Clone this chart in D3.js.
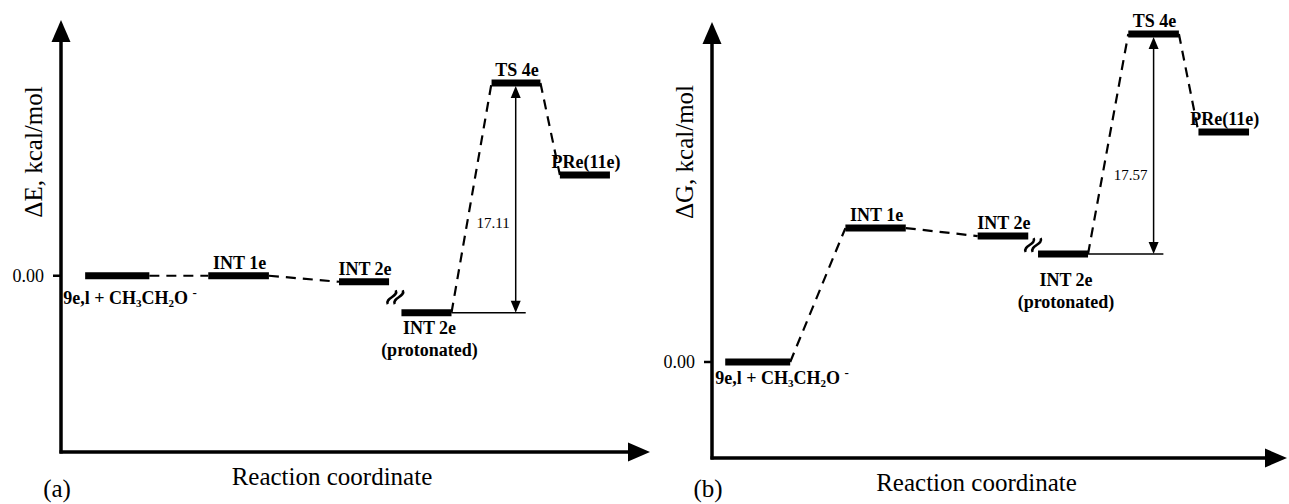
<!DOCTYPE html>
<html lang="en">
<head>
<meta charset="UTF-8">
<title>energy profile</title>
<script src="https://d3js.org/d3.v7.min.js"></script>
<style>
    body{margin:0;background:#fff;}
    svg text{font-family:"Liberation Serif","LiberationSerif","Tinos","Times New Roman",Times,"DejaVu Serif",serif;fill:#000;}
    .lbl{font-weight:bold;font-size:18px;}
    .tick{font-size:18px;}
    .title{font-size:25px;}
    .val{font-size:15px;}
</style>
</head>
<body>
<div id="fig"></div>
<script>
    // states along the reaction coordinate (same order in both panels)
    let states = ["9e,l", "INT 1e", "INT 2e", "INT 2e (protonated)", "TS 4e", "PRe(11e)"]
    // (a) electronic energy, kcal/mol
    let dE = [0.00, 0.00, -0.45, -2.75, 14.36, 7.51]
    let rcStartA = [0.41, 2.50, 4.72, 5.78, 7.31, 8.47]
    let rcEndA = [1.50, 3.53, 5.57, 6.63, 8.14, 9.32]
    // (b) free energy, kcal/mol
    let dG = [0.00, 10.70, 10.06, 8.63, 26.20, 18.37]
    let rcStartB = [0.23, 2.32, 4.62, 5.67, 7.24, 8.46]
    let rcEndB = [1.36, 3.37, 5.50, 6.54, 8.12, 9.34]
    let barriers = ["17.11", "17.57"]
    let tickLabels = ["0.00", "0.00"]

    let W = 1289, H = 504
    let svg = d3.select("#fig").append("svg").attr("width", W).attr("height", H)

    function tri(g, x, y, dir, len, wid) {
        // filled arrow head, tip at (x,y)
        let p
        if (dir == "up") p = [[x, y], [x - wid / 2, y + len], [x + wid / 2, y + len]]
        if (dir == "down") p = [[x, y], [x - wid / 2, y - len], [x + wid / 2, y - len]]
        if (dir == "right") p = [[x, y], [x - len, y - wid / 2], [x - len, y + wid / 2]]
        g.append("path").attr("d", "M" + p.join("L") + "Z").attr("fill", "#000")
    }

    function panel(cfg) {
        let g = svg.append("g")
        let x = d3.scaleLinear().domain([0, 10]).range([cfg.x0, cfg.x1])
        let y = d3.scaleLinear().domain(cfg.ydom).range([cfg.yb, cfg.yt])
        let n = cfg.E.length
        let lv = d3.range(n).map(i => ({name: states[i], e: cfg.E[i], a: cfg.s[i], b: cfg.t[i]}))

        // axes
        g.append("line").attr("x1", cfg.x0).attr("x2", cfg.x0).attr("y1", cfg.yb + 1.5).attr("y2", cfg.yt + 18)
            .attr("stroke", "#000").attr("stroke-width", 3.5)
        tri(g, cfg.x0, cfg.yt, "up", 22, 19)
        g.append("line").attr("x1", cfg.x0 - 1.5).attr("x2", cfg.x1 - 18).attr("y1", cfg.yb).attr("y2", cfg.yb)
            .attr("stroke", "#000").attr("stroke-width", 3.5)
        tri(g, cfg.x1, cfg.yb, "right", 22, 19)
        g.append("line").attr("x1", cfg.x0 - 8).attr("x2", cfg.x0).attr("y1", y(0)).attr("y2", y(0))
            .attr("stroke", "#000").attr("stroke-width", 2.5)
        g.append("text").attr("class", "tick").attr("x", cfg.x0 - 17).attr("y", y(0) + 6)
            .attr("text-anchor", "end").text(cfg.tick)
        g.append("text").attr("class", "title")
            .attr("transform", `translate(${cfg.x0 - 19},${cfg.tx}) rotate(-90)`)
            .attr("text-anchor", "middle").text(cfg.ylab)
        g.append("text").attr("class", "title").attr("x", x(4.6)).attr("y", cfg.yb + 33)
            .attr("text-anchor", "middle").text("Reaction coordinate")
        g.append("text").attr("class", "title").attr("x", cfg.x0 - 4).attr("y", 497)
            .attr("text-anchor", "middle").text(cfg.tag)

        // dashed connectors
        let links = [[0, 1], [1, 2], [3, 4], [4, 5]]
        g.selectAll(".dash").data(links).enter().append("line")
            .attr("x1", d => x(lv[d[0]].b)).attr("y1", d => y(lv[d[0]].e))
            .attr("x2", d => x(lv[d[1]].a)).attr("y2", d => y(lv[d[1]].e))
            .attr("stroke", "#000").attr("stroke-width", 2.2).attr("stroke-dasharray", "10,7")

        // levels
        g.selectAll(".lev").data(lv).enter().append("line")
            .attr("x1", d => x(d.a)).attr("x2", d => x(d.b))
            .attr("y1", d => y(d.e)).attr("y2", d => y(d.e))
            .attr("stroke", "#000").attr("stroke-width", 7)

        // break mark between INT 2e and its protonated form
        let bx = (x(lv[2].b) + x(lv[3].a)) / 2, by = (y(lv[2].e) + y(lv[3].e)) / 2
        ;[-3.5, 3.5].forEach(function (o) {
            g.append("path").attr("d", "M-8,0 C-4,-6 4,6 8,0")
                .attr("transform", `translate(${bx + o},${by}) rotate(-60)`)
                .attr("fill", "none").attr("stroke", "#000").attr("stroke-width", 2.5)
        })

        // labels above
        ;[1, 2, 4, 5].forEach(function (i) {
            g.append("text").attr("class", "lbl").attr("x", (x(lv[i].a) + x(lv[i].b)) / 2 + 1)
                .attr("y", y(lv[i].e) - 7).attr("text-anchor", "middle").text(lv[i].name)
        })
        let t0 = g.append("text").attr("class", "lbl").attr("x", x(lv[0].a) - cfg.lx).attr("y", y(0) + cfg.dy0)
        t0.append("tspan").text("9e,l + CH")
        t0.append("tspan").attr("font-size", 11).attr("dy", 3).text("3")
        t0.append("tspan").attr("dy", -3).text("CH")
        t0.append("tspan").attr("font-size", 11).attr("dy", 3).text("2")
        t0.append("tspan").attr("dy", -3).text("O ")
        t0.append("tspan").attr("font-size", 13).attr("dy", -7).text("-")
        let px = (x(lv[3].a) + x(lv[3].b)) / 2 + 3
        g.append("text").attr("class", "lbl").attr("x", px).attr("y", y(lv[3].e) + cfg.dy1)
            .attr("text-anchor", "middle").text("INT 2e")
        g.append("text").attr("class", "lbl").attr("x", px).attr("y", y(lv[3].e) + cfg.dy1 + 22)
            .attr("text-anchor", "middle").text("(protonated)")

        // barrier arrow
        let ax = x(cfg.arrow), yb = y(lv[3].e), yt = y(lv[4].e)
        g.append("line").attr("x1", x(lv[3].b)).attr("x2", x(cfg.baseEnd)).attr("y1", yb).attr("y2", yb)
            .attr("stroke", "#000").attr("stroke-width", 1.5)
        g.append("line").attr("x1", ax).attr("x2", ax).attr("y1", yb - 10).attr("y2", yt + 10)
            .attr("stroke", "#000").attr("stroke-width", 1.5)
        tri(g, ax, yb, "down", 12, 10)
        tri(g, ax, yt + 3, "up", 12, 10)
        g.append("text").attr("class", "val").attr("x", ax - 6).attr("y", cfg.vy)
            .attr("text-anchor", "end").text(cfg.val)
    }

    panel({E: dE, s: rcStartA, t: rcEndA, x0: 61, x1: 650, yb: 452, yt: 20, ydom: [-13.13, 19.05],
        tick: tickLabels[0], ylab: "\u0394E, kcal/mol", tx: 152, tag: "(a)", dy0: 28, dy1: 21, lx: 22,
        arrow: 7.72, baseEnd: 7.89, val: barriers[0], vy: 228})
    panel({E: dG, s: rcStartB, t: rcEndB, x0: 712, x1: 1287, yb: 458, yt: 22, ydom: [-7.67, 27.16],
        tick: tickLabels[1], ylab: "\u0394G, kcal/mol", tx: 152, tag: "(b)", dy0: 22, dy1: 32, lx: 10,
        arrow: 7.68, baseEnd: 7.85, val: barriers[1], vy: 180})
</script>
</body>
</html>
